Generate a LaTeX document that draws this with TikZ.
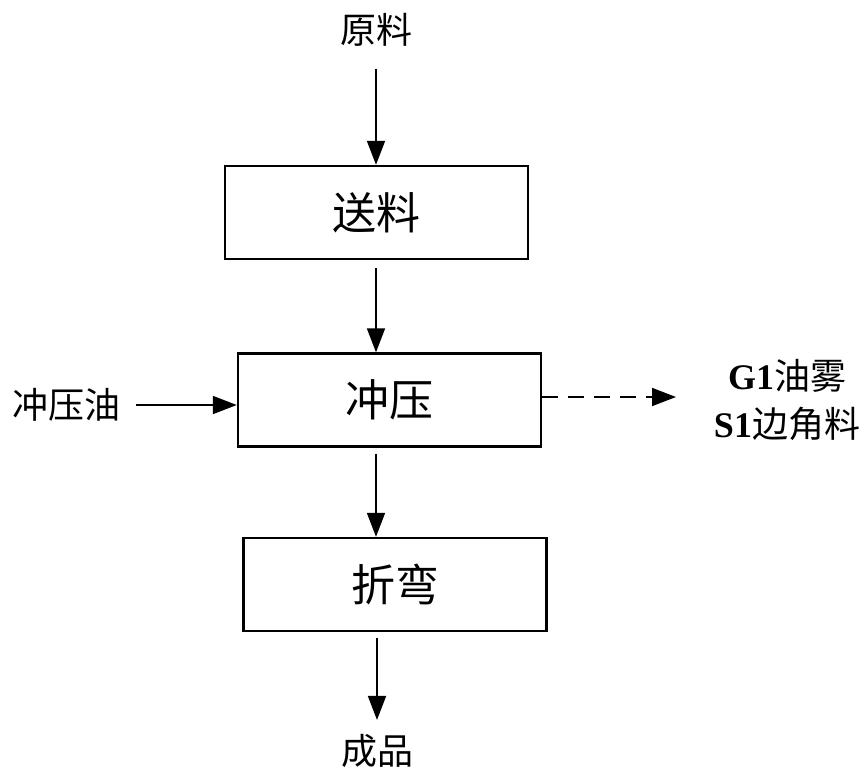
\documentclass[tikz,border=0pt]{standalone}
\usepackage{fontspec}
\setmainfont{Liberation Serif}
\newfontfamily\cjk{Noto Sans CJK SC}
\usetikzlibrary{arrows.meta}
\begin{document}
\begin{tikzpicture}
        [x=0.5pt, y=-0.5pt,
        label/.style={font=\cjk\fontsize{18}{20}\selectfont, inner sep=0pt},
        box/.style={draw, line width=1.2pt, minimum width=151.5pt, minimum height=46.5pt, font=\cjk\fontsize{22}{24}\selectfont},
        arr/.style={line width=0.9pt, -{Triangle[length=12pt, width=9pt]}}]
        \useasboundingbox (0,0) rectangle (864,772);
        \node[label] (yuanliao) at (376,30) {原料};
        \node[box] (songliao) at (376.5,212.5) {送料};
        \node[box] (chongya) at (389.5,400) {冲压};
        \node[box] (zhewan) at (395,584.5) {折弯};
        \node[label] (chengpin) at (377,751) {成品};
        \node[label] (chongyayou) at (66,405) {冲压油};
        \node[label, align=center] (wuran) at (787,400) {{\rmfamily\bfseries G1}油雾\\[4pt]{\rmfamily\bfseries S1}边角料};
        \coordinate (jiantou) at (676,397);

        \draw[arr, shorten <=11pt] (yuanliao) -- (songliao.north -| yuanliao);
        \draw[arr, shorten <=4pt] (songliao.south -| yuanliao) -- (chongya.north -| yuanliao);
        \draw[arr, shorten <=3pt] (chongya.south -| yuanliao) -- (zhewan.north -| yuanliao);
        \draw[arr, shorten <=3pt, shorten >=7pt] (zhewan.south -| chengpin) -- (chengpin);
        \draw[arr, shorten <=8pt] (chongyayou) -- (chongya.west |- chongyayou);
        \draw[arr, dash pattern=on 8pt off 5pt] (chongya.east |- jiantou) -- (jiantou);
    \end{tikzpicture}
\end{document}
